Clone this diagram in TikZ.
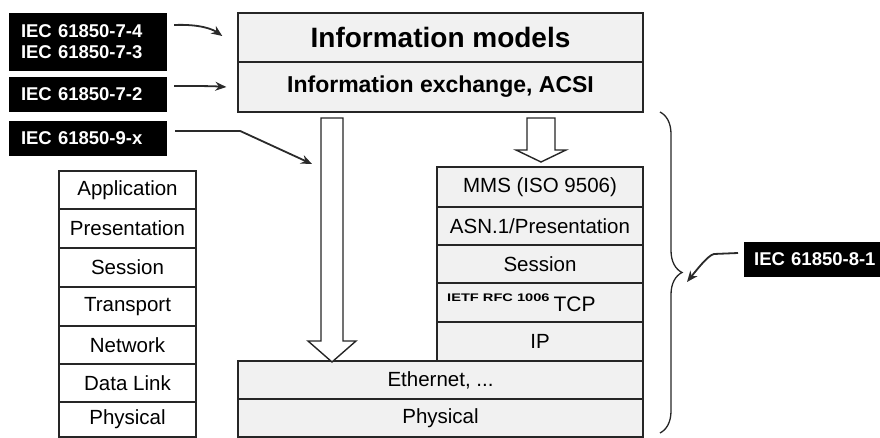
\documentclass[tikz,border=0pt]{standalone}
\usepackage{fontspec}
\setmainfont{Liberation Sans}
\usetikzlibrary{arrows.meta,decorations.pathreplacing}
\definecolor{boxgray}{HTML}{F1F1F1}
\definecolor{linegray}{HTML}{2A2A2A}
\newcommand\fsz[1]{\fontsize{#1}{#1}\selectfont}
\begin{document}
\begin{tikzpicture}[x=1pt,y=-1pt,
  layerbox/.style={draw=black!85, line width=1.4pt, fill=boxgray, inner sep=0pt,
    font=\fsz{20.5}},
  wide/.style={layerbox, minimum width=405pt},
  stackbox/.style={layerbox, minimum width=206pt},
  osibox/.style={layerbox, fill=white, minimum width=137pt},
  tag/.style={fill=black, text=white, inner xsep=12pt, inner ysep=0pt,
    font=\bfseries\fontsize{18.5}{21}\selectfont, align=left},
  conn/.style={draw=linegray, line width=1.8pt, -{Stealth[length=11pt,width=9pt]}},
  hollow/.style={draw=black!85, line width=1.4pt, fill=white, line join=miter}]
\useasboundingbox (0,0) rectangle (880,438);

% upper service layers
\node[wide, minimum height=49pt, font=\bfseries\fsz{28}] (models) at (440.5,37.5) {Information models};
\node[wide, minimum height=50pt, font=\bfseries\fsz{23}] (exch) at (440.5,87) {Information exchange, ACSI};

% OSI reference stack
\node[osibox, minimum height=38pt] (app) at (127.5,190) {Application};
\node[osibox, minimum height=39pt] (pres) at (127.5,228.5) {Presentation};
\node[osibox, minimum height=39pt] (sess) at (127.5,267.5) {Session};
\node[osibox, minimum height=39pt] (trans) at (127.5,306.5) {Transport};
\node[osibox, minimum height=38pt] (net) at (127.5,345) {Network};
\node[osibox, minimum height=38pt] (dl) at (127.5,383) {Data Link};
\node[osibox, minimum height=35pt] (phy) at (127.5,419.5) {Physical};

% MMS / TCP/IP stack
\node[stackbox, minimum height=40pt] (mms) at (540,187) {MMS (ISO 9506)};
\node[stackbox, minimum height=38pt] (asn) at (540,226) {ASN.1/Presentation};
\node[stackbox, minimum height=38pt] (rsess) at (540,264) {Session};
\node[stackbox, minimum height=39pt] (tcp) at (540,302.5) {};
\node[font=\fsz{21}, inner sep=0pt] (tcptext) at (574.5,304) {TCP};
\node[font=\bfseries\fsz{11}, inner sep=0pt, anchor=west] (rfc) at (447,297.5) {\scalebox{1.33}[1]{IETF RFC 1006}};
\node[stackbox, minimum height=39pt] (ip) at (540,341.5) {IP};
\node[wide, minimum height=38pt] (eth) at (440.5,380) {Ethernet, ...};
\node[wide, minimum height=38pt] (rphy) at (440.5,418) {Physical};

% mapping arrows
\draw[hollow] (321,118) -- (343,118) -- (343,341) -- (356,341) -- (332,362)
  -- (308,341) -- (321,341) -- cycle;
\draw[hollow] (527,118) -- (555,118) -- (555,150) -- (566,150) -- (541,162)
  -- (516,150) -- (527,150) -- cycle;

% standard parts
\node[tag, text width=134pt, minimum height=58pt] (t74) at (88,42)
  {IEC 61850-7-4\\IEC 61850-7-3};
\node[tag, text width=134pt, minimum height=35pt] (t72) at (88,94.5) {IEC 61850-7-2};
\node[tag, text width=134pt, minimum height=35pt] (t9x) at (88,138.5) {IEC 61850-9-x};
\node[tag, inner xsep=10pt, text width=124pt, minimum height=35pt, anchor=west] (t81) at (744,259.5) {IEC 61850-8-1};

% brace over the mapped stack
\coordinate (bracetop) at (660,112);
\coordinate (bracebot) at (660,433);
\draw[black!85, line width=1.3pt, decorate, decoration={brace, amplitude=22pt}]
  (bracetop) -- (bracebot);

% references
\draw[conn] ([xshift=7pt,yshift=17pt]t74.east) .. controls +(25,-1) and +(-10,-7) ..
  ([xshift=-15pt,yshift=1.5pt]models.west);
\draw[conn] ([xshift=7pt,yshift=8.5pt]t72.east) .. controls +(20,0) and +(-15,-1) ..
  ([xshift=-11pt]exch.west);
\draw[conn] ([xshift=8pt,yshift=7.5pt]t9x.east) -- ++(65,0) -- (312,164);
\draw[conn] ([xshift=-6pt,yshift=6.5pt]t81.west) -- ++(-24,1)
  .. controls +(-6,1) and +(8,-10) .. ([xshift=27pt]bracetop |- 0,282);
\end{tikzpicture}
\end{document}
